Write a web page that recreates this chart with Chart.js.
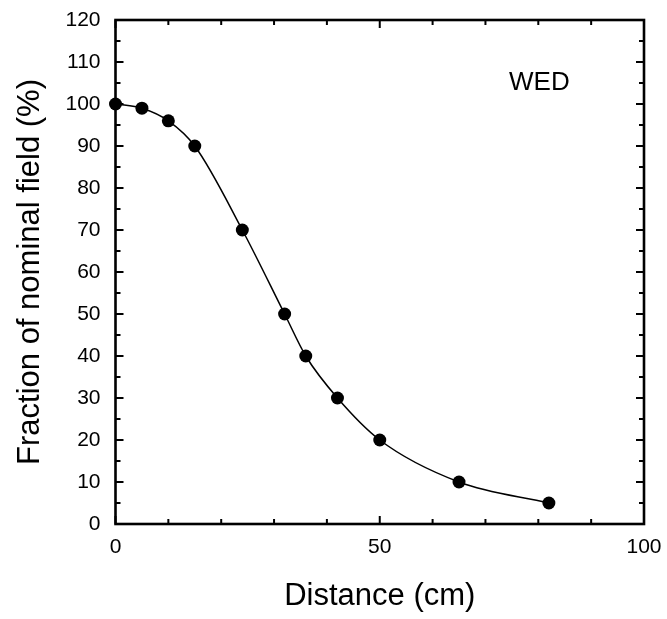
<!DOCTYPE html>
<html>
<head>
<meta charset="utf-8">
<script src="https://cdn.jsdelivr.net/npm/chart.js@4.4.1/dist/chart.umd.min.js"></script>
<style>
  html, body { margin: 0; padding: 0; background: #fff; }
  #wrap { width: 667px; height: 619px; }
</style>
</head>
<body>
<div id="wrap"><canvas id="chart"></canvas></div>
<script>
// data
var distance = [0, 5, 10, 15, 24, 32, 36, 42, 50, 65, 82];
var fieldPct = [100, 99, 96, 90, 70, 50, 40, 30, 20, 10, 5];

var xTickLabels = [0, 50, 100];
var xMinorTicks = [10, 20, 30, 40, 60, 70, 80, 90];
var yTickLabels = [0, 10, 20, 30, 40, 50, 60, 70, 80, 90, 100, 110, 120];
var yMinorTicks = [5, 15, 25, 35, 45, 55, 65, 75, 85, 95, 105, 115];

var panelLabel = 'WED';
var panelLabelAt = { x: 80.2, y: 105 };

var FONT = "'Liberation Sans', Arial, Helvetica, sans-serif";

var points = [];
for (var i = 0; i < distance.length; i++) {
    points.push({ x: distance[i], y: fieldPct[i] });
}

// box round the plot with inward ticks, like the original
var framePlugin = {
    id: 'frame',
    beforeDatasetsDraw: function(chart) {
        var a = chart.chartArea;
        var ctx = chart.ctx;
        var xs = chart.scales.x;
        var ys = chart.scales.y;

        ctx.save();
        ctx.strokeStyle = '#000';
        ctx.lineCap = 'butt';

        ctx.lineWidth = 2;
        function xTick(v, len) {
            var px = xs.getPixelForValue(v);
            ctx.beginPath();
            ctx.moveTo(px, a.bottom); ctx.lineTo(px, a.bottom - len);
            ctx.moveTo(px, a.top); ctx.lineTo(px, a.top + len);
            ctx.stroke();
        }
        function yTick(v, len) {
            var py = ys.getPixelForValue(v);
            ctx.beginPath();
            ctx.moveTo(a.left, py); ctx.lineTo(a.left + len, py);
            ctx.moveTo(a.right, py); ctx.lineTo(a.right - len, py);
            ctx.stroke();
        }
        xTickLabels.forEach(function(v) { xTick(v, 8); });
        xMinorTicks.forEach(function(v) { xTick(v, 5); });
        yTickLabels.forEach(function(v) { yTick(v, 8); });
        yMinorTicks.forEach(function(v) { yTick(v, 5); });

        ctx.lineWidth = 2.6;
        ctx.strokeRect(a.left, a.top, a.right - a.left, a.bottom - a.top);
        ctx.restore();
    },
    afterDraw: function(chart) {
        var ctx = chart.ctx;
        ctx.save();
        ctx.fillStyle = '#000';
        ctx.font = '26px ' + FONT;
        ctx.textAlign = 'center';
        ctx.textBaseline = 'middle';
        ctx.fillText(panelLabel,
            chart.scales.x.getPixelForValue(panelLabelAt.x),
            chart.scales.y.getPixelForValue(panelLabelAt.y));
        ctx.restore();
    }
};

var ctx = document.getElementById('chart').getContext('2d');
var chart = new Chart(ctx, {
    type: 'scatter',
    data: {
        datasets: [{
            data: points,
            showLine: true,
            borderColor: '#000',
            borderWidth: 1.5,
            backgroundColor: '#000',
            pointBackgroundColor: '#000',
            pointBorderColor: '#000',
            pointRadius: 6.5,
            pointBorderWidth: 0,
            cubicInterpolationMode: 'monotone',
            clip: false
        }]
    },
    options: {
        responsive: true,
        maintainAspectRatio: false,
        animation: false,
        events: [],
        layout: { autoPadding: false, padding: { top: 20, right: 23, bottom: 0, left: 0 } },
        plugins: {
            legend: { display: false },
            tooltip: { enabled: false }
        },
        scales: {
            x: {
                type: 'linear',
                min: 0,
                max: 100,
                grid: { display: false, drawTicks: false },
                border: { display: false },
                afterBuildTicks: function(axis) {
                    axis.ticks = xTickLabels.map(function(v) { return { value: v }; });
                },
                // fixed box so the plot area sits where the original's does
                afterFit: function(scale) {
                    scale.height = 95;
                    scale.paddingLeft = 0;
                    scale.paddingRight = 0;
                },
                ticks: {
                    color: '#000',
                    padding: 11,
                    maxRotation: 0,
                    font: { family: FONT, size: 21 }
                },
                title: {
                    display: true,
                    text: 'Distance (cm)',
                    color: '#000',
                    padding: { top: 0, bottom: 4 },
                    font: { family: FONT, size: 31, lineHeight: 1.2 }
                }
            },
            y: {
                type: 'linear',
                min: 0,
                max: 120,
                grid: { display: false, drawTicks: false },
                border: { display: false },
                afterBuildTicks: function(axis) {
                    axis.ticks = yTickLabels.map(function(v) { return { value: v }; });
                },
                afterFit: function(scale) {
                    scale.width = 115.5;
                    scale.paddingTop = 0;
                    scale.paddingBottom = 0;
                },
                ticks: {
                    color: '#000',
                    padding: 15,
                    font: { family: FONT, size: 21 }
                },
                title: {
                    display: true,
                    text: 'Fraction of nominal field (%)',
                    color: '#000',
                    padding: { top: 12, bottom: 0 },
                    font: { family: FONT, size: 31, lineHeight: 1.2 }
                }
            }
        }
    },
    plugins: [framePlugin]
});
</script>
</body>
</html>
